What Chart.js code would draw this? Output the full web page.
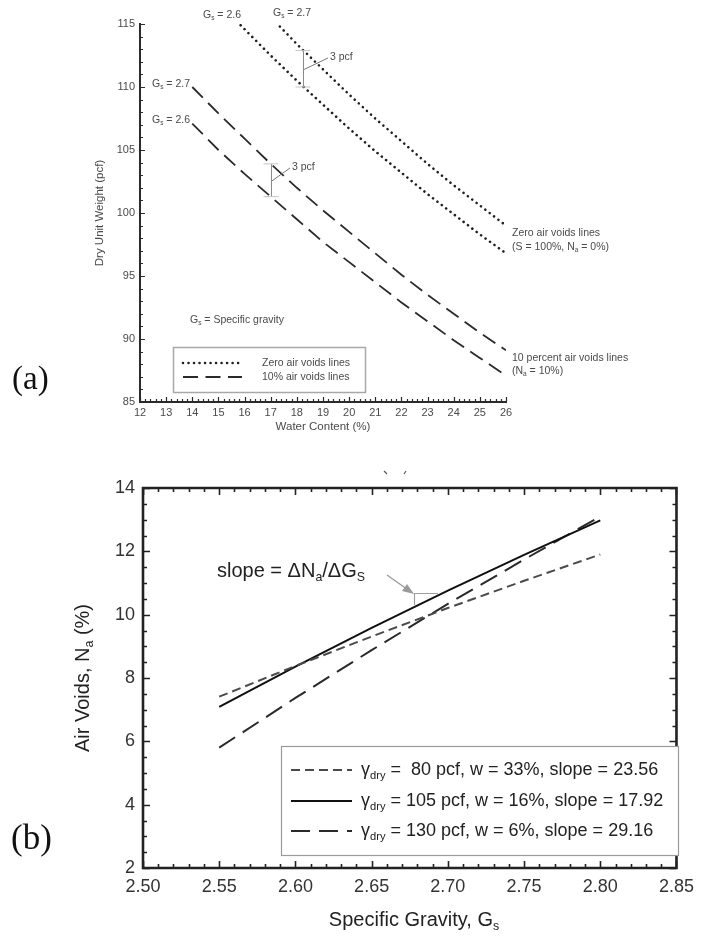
<!DOCTYPE html>
<html>
<head>
<meta charset="utf-8">
<script src="https://cdn.jsdelivr.net/npm/chart.js@4.4.1/dist/chart.umd.min.js"></script>
<style>
  html, body { margin: 0; padding: 0; background: #fff; }
  #wrap { position: relative; width: 702px; height: 937px; overflow: hidden; background: #fff; }
  canvas { position: absolute; left: 0; }
  #ca { top: 0; }
  #cb { top: 440px; }
  .tag { position: absolute; font-family: "Liberation Serif", "DejaVu Serif", serif; color: #111; line-height: 1; }
</style>
</head>
<body>
<div id="wrap">
  <canvas id="ca" width="702" height="440" style="width:702px;height:440px"></canvas>
  <canvas id="cb" width="702" height="497" style="width:702px;height:497px"></canvas>
  <div class="tag" style="left:12px;top:362px;font-size:33px">(a)</div>
  <div class="tag" style="left:11px;top:820px;font-size:35px">(b)</div>
</div>
<script>
// ---------- Panel (a): compaction curves, dry unit weight vs water content ----------
const wZav26   = [15.85, 17, 18, 19, 20, 21, 22, 23, 24, 25, 26];
const gdZav26  = [114.9, 112.5, 110.5, 108.6, 106.7, 104.9, 103.2, 101.5, 99.9, 98.3, 96.8];
const wZav27   = [17.35, 18, 19, 20, 21, 22, 23, 24, 25, 26];
const gdZav27  = [114.8, 113.4, 111.4, 109.4, 107.5, 105.7, 103.9, 102.2, 100.6, 99.0];
const wAv10    = [14, 15, 16, 17, 18, 19, 20, 21, 22, 23, 24, 25, 26];
const gdAv10_27 = [110.0, 107.9, 105.9, 103.9, 102.0, 100.2, 98.5, 96.8, 95.1, 93.5, 92.0, 90.5, 89.1];
const gdAv10_26 = [107.1, 105.0, 103.1, 101.3, 99.5, 97.7, 96.1, 94.5, 92.9, 91.4, 89.9, 88.5, 87.1];
const waterTicks = [12, 13, 14, 15, 16, 17, 18, 19, 20, 21, 22, 23, 24, 25, 26];
const dryTicks   = [85, 90, 95, 100, 105, 110, 115];

// ---------- Panel (b): air voids vs specific gravity ----------
const gsValues = [2.55, 2.60, 2.65, 2.70, 2.75, 2.80];
const na80  = [7.41, 8.38, 9.31, 10.21, 11.07, 11.90];
const na105 = [7.09, 8.36, 9.58, 10.76, 11.89, 12.98];
const na130 = [5.80, 7.37, 8.88, 10.34, 11.74, 13.10];
const dryWeights = [80, 105, 130];
const waterPct   = [33, 16, 6];
const slopes     = [23.56, 17.92, 29.16];
const gsTicks = ['2.50', '2.55', '2.60', '2.65', '2.70', '2.75', '2.80', '2.85'];
const naTicks = [2, 4, 6, 8, 10, 12, 14];

const FONT = '"Liberation Sans", Arial, Helvetica, sans-serif';

function pts(xs, ys) { return xs.map((v, i) => ({ x: v, y: ys[i] })); }

// text with optional subscript pieces: [[text, isSub], ...]
function richWidth(ctx, parts, size) {
  let w = 0;
  for (const [t, sub] of parts) {
    ctx.font = (sub ? size * 0.62 : size) + 'px ' + FONT;
    w += ctx.measureText(t).width;
  }
  return w;
}
function drawRich(ctx, parts, x, y, size, color, align) {
  ctx.save();
  ctx.fillStyle = color;
  ctx.textBaseline = 'middle';
  ctx.textAlign = 'left';
  const w = richWidth(ctx, parts, size);
  let cx = x;
  if (align === 'center') cx -= w / 2;
  else if (align === 'right') cx -= w;
  for (const [t, sub] of parts) {
    const s = sub ? size * 0.62 : size;
    ctx.font = s + 'px ' + FONT;
    ctx.fillText(t, cx, sub ? y + size * 0.32 : y);
    cx += ctx.measureText(t).width;
  }
  ctx.restore();
}

function tickValues(min, max, step) {
  const n = Math.round((max - min) / step);
  const out = [];
  for (let i = 0; i <= n; i++) out.push(min + i * step);
  return out;
}

// inward tick marks and axis frame
const frameTicks = {
  id: 'frameTicks',
  afterDraw(chart, args, o) {
    const { ctx, chartArea: a, scales: { x, y } } = chart;
    ctx.save();
    ctx.strokeStyle = o.color;
    ctx.lineWidth = o.tickWidth;
    ctx.beginPath();
    for (const [step, len] of [[o.xMinor, o.minorLen], [o.xMajor, o.majorLen]]) {
      for (const v of tickValues(x.min, x.max, step)) {
        const px = Math.round(x.getPixelForValue(v)) + 0.5;
        if (o.sides.includes('bottom')) { ctx.moveTo(px, a.bottom); ctx.lineTo(px, a.bottom - len); }
        if (o.sides.includes('top')) { ctx.moveTo(px, a.top); ctx.lineTo(px, a.top + len); }
      }
    }
    for (const [step, len] of [[o.yMinor, o.minorLen], [o.yMajor, o.majorLen]]) {
      for (const v of tickValues(y.min, y.max, step)) {
        const py = Math.round(y.getPixelForValue(v)) + 0.5;
        if (o.sides.includes('left')) { ctx.moveTo(a.left, py); ctx.lineTo(a.left + len, py); }
        if (o.sides.includes('right')) { ctx.moveTo(a.right, py); ctx.lineTo(a.right - len, py); }
      }
    }
    ctx.stroke();
    ctx.lineWidth = o.frameWidth;
    ctx.lineCap = 'square';
    ctx.beginPath();
    if (o.sides.includes('left')) { ctx.moveTo(a.left, a.top); ctx.lineTo(a.left, a.bottom); }
    if (o.sides.includes('bottom')) { ctx.moveTo(a.left, a.bottom); ctx.lineTo(a.right, a.bottom); }
    if (o.sides.includes('right')) { ctx.moveTo(a.right, a.top); ctx.lineTo(a.right, a.bottom); }
    if (o.sides.includes('top')) { ctx.moveTo(a.left, a.top); ctx.lineTo(a.right, a.top); }
    ctx.stroke();
    ctx.restore();
  }
};

// ---------- Panel (a) annotations, titles and legend ----------
const notesA = {
  id: 'notesA',
  afterDraw(chart) {
    const { ctx, scales: { x, y }, data: { datasets } } = chart;
    const TXT = '#4a4a4a';
    const fs = 10.5;
    const gs = (v) => [['G'], ['s', 1], [' = ' + v]];

    drawRich(ctx, gs('2.6'), 203, 15, fs, TXT, 'left');
    drawRich(ctx, gs('2.7'), 273, 13, fs, TXT, 'left');
    drawRich(ctx, gs('2.7'), 152, 84, fs, TXT, 'left');
    drawRich(ctx, gs('2.6'), 152, 120, fs, TXT, 'left');

    drawRich(ctx, [['Zero air voids lines']], 512, 233, fs, TXT, 'left');
    drawRich(ctx, [['(S = 100%, N'], ['a', 1], [' = 0%)']], 512, 247, fs, TXT, 'left');
    drawRich(ctx, [['10 percent air voids lines']], 512, 358, fs, TXT, 'left');
    drawRich(ctx, [['(N'], ['a', 1], [' = 10%)']], 512, 371, fs, TXT, 'left');
    drawRich(ctx, [['G'], ['s', 1], [' = Specific gravity']], 190, 320, fs, TXT, 'left');

    // 3 pcf brackets between the Gs = 2.6 and Gs = 2.7 lines
    const bracket = (wv, top, bot, lx, ly) => {
      const px = Math.round(x.getPixelForValue(wv)) + 0.5;
      const t = y.getPixelForValue(top), b = y.getPixelForValue(bot);
      ctx.save();
      ctx.strokeStyle = '#8a8a8a';
      ctx.lineWidth = 1;
      ctx.beginPath();
      ctx.moveTo(px, t); ctx.lineTo(px, b);
      ctx.stroke();
      ctx.strokeStyle = '#c4c4c4';
      ctx.beginPath();
      ctx.moveTo(px - 8, t); ctx.lineTo(px + 7, t);
      ctx.moveTo(px - 8, b); ctx.lineTo(px + 7, b);
      ctx.stroke();
      ctx.strokeStyle = '#777';
      ctx.beginPath();
      ctx.moveTo(px, (t + b) / 2 + 1); ctx.lineTo(lx - 2, ly + 1);
      ctx.stroke();
      ctx.restore();
      drawRich(ctx, [['3 pcf']], lx, ly, fs, TXT, 'left');
    };
    bracket(18.25, 112.9, 110.0, 330, 57);
    bracket(17.0, 103.9, 101.3, 292, 167);

    // axis titles
    drawRich(ctx, [['Water Content (%)']], (x.left + x.right) / 2, 427, 11.5, TXT, 'center');
    ctx.save();
    ctx.translate(100, (y.top + y.bottom) / 2);
    ctx.rotate(-Math.PI / 2);
    drawRich(ctx, [['Dry Unit Weight (pcf)']], 0, 0, 11.5, TXT, 'center');
    ctx.restore();

    // legend box
    ctx.save();
    ctx.strokeStyle = '#a8a8a8';
    ctx.lineWidth = 1.5;
    ctx.strokeRect(173.5, 347.5, 192, 45);
    const rows = [[datasets[0], 363], [datasets[2], 377]];
    for (const [ds, ry] of rows) {
      ctx.strokeStyle = ds.borderColor;
      ctx.lineWidth = ds.borderWidth;
      ctx.lineCap = ds.borderCapStyle || 'butt';
      ctx.setLineDash(ds.borderDash);
      ctx.beginPath();
      ctx.moveTo(183, ry); ctx.lineTo(242, ry);
      ctx.stroke();
      ctx.setLineDash([]);
      drawRich(ctx, [[ds.label]], 262, ry, fs, TXT, 'left');
    }
    ctx.restore();
  }
};

const dotted = { borderColor: '#1e1e1e', borderWidth: 2.6, borderDash: [0.01, 5.5], borderCapStyle: 'round' };
const dashed = { borderColor: '#2a2a2a', borderWidth: 1.8, borderDash: [15, 7.5], borderCapStyle: 'butt' };

new Chart(document.getElementById('ca'), {
  type: 'line',
  data: {
    datasets: [
      Object.assign({ label: 'Zero air voids lines', data: pts(wZav26, gdZav26) }, dotted),
      Object.assign({ label: 'Zero air voids lines', data: pts(wZav27, gdZav27) }, dotted),
      Object.assign({ label: '10% air voids lines', data: pts(wAv10, gdAv10_27) }, dashed),
      Object.assign({ label: '10% air voids lines', data: pts(wAv10, gdAv10_26) }, dashed)
    ].map(d => Object.assign(d, { pointRadius: 0, fill: false, tension: 0 }))
  },
  options: {
    responsive: false,
    animation: false,
    devicePixelRatio: 1,
    layout: { padding: { top: 24, right: 196, left: 0, bottom: 0 } },
    plugins: {
      legend: { display: false },
      tooltip: { enabled: false },
      frameTicks: { sides: ['left', 'bottom'], color: '#2a2a2a', tickWidth: 1.2, frameWidth: 2,
                    xMinor: 0.2, xMajor: 1, yMinor: 1, yMajor: 5, minorLen: 3, majorLen: 5 }
    },
    scales: {
      x: {
        type: 'linear', min: waterTicks[0], max: waterTicks[waterTicks.length - 1],
        afterBuildTicks(s) { s.ticks = waterTicks.map(v => ({ value: v })); },
        ticks: { color: '#4a4a4a', font: { family: FONT, size: 11 }, padding: 4, maxRotation: 0, autoSkip: false },
        grid: { display: false, drawTicks: false },
        border: { display: false },
        afterFit(s) { s.height = 38; }
      },
      y: {
        type: 'linear', min: dryTicks[0], max: dryTicks[dryTicks.length - 1],
        afterBuildTicks(s) { s.ticks = dryTicks.map(v => ({ value: v })); },
        ticks: { color: '#4a4a4a', font: { family: FONT, size: 11 }, padding: 5 },
        grid: { display: false, drawTicks: false },
        border: { display: false },
        afterFit(s) { s.width = 140; }
      }
    }
  },
  plugins: [frameTicks, notesA]
});

// ---------- Panel (b) annotations, titles and legend ----------
const notesB = {
  id: 'notesB',
  afterDraw(chart) {
    const { ctx, scales: { x, y }, data: { datasets } } = chart;
    const TXT = '#222';

    // cropped caption marks above the frame
    ctx.save();
    ctx.strokeStyle = '#555';
    ctx.lineWidth = 1.2;
    ctx.beginPath();
    ctx.moveTo(384, 31); ctx.lineTo(387, 34);
    ctx.moveTo(406, 31); ctx.lineTo(404, 34);
    ctx.stroke();
    ctx.restore();

    // slope annotation
    drawRich(ctx, [['slope = \u0394N'], ['a', 1], ['/\u0394G'], ['S', 1]], 217, 131, 20, TXT, 'left');
    ctx.save();
    ctx.strokeStyle = '#9a9a9a';
    ctx.fillStyle = '#9a9a9a';
    ctx.lineWidth = 1.3;
    ctx.beginPath();
    ctx.moveTo(387, 135); ctx.lineTo(411, 152);
    ctx.stroke();
    ctx.beginPath();
    ctx.moveTo(414, 154); ctx.lineTo(402, 151); ctx.lineTo(407, 144);
    ctx.closePath();
    ctx.fill();
    ctx.strokeStyle = '#a0a0a0';
    ctx.lineWidth = 1.2;
    ctx.beginPath();
    ctx.moveTo(414.5, 153); ctx.lineTo(414.5, 165);
    ctx.moveTo(414.5, 153.5); ctx.lineTo(438, 153.5);
    ctx.stroke();
    ctx.restore();

    // axis titles
    drawRich(ctx, [['Specific Gravity, G'], ['s', 1]], 414, 480, 20, TXT, 'center');
    ctx.save();
    ctx.translate(83, (y.top + y.bottom) / 2);
    ctx.rotate(-Math.PI / 2);
    drawRich(ctx, [['Air Voids, N'], ['a', 1], [' (%)']], 0, 0, 20, TXT, 'center');
    ctx.restore();

    // legend box
    ctx.save();
    ctx.fillStyle = '#fff';
    ctx.fillRect(281, 306, 397, 109);
    ctx.strokeStyle = '#9a9a9a';
    ctx.lineWidth = 1.2;
    ctx.strokeRect(281.5, 306.5, 397, 109);
    const rowsY = [330, 361, 391];
    datasets.forEach((ds, i) => {
      const ry = rowsY[i];
      ctx.strokeStyle = ds.borderColor;
      ctx.lineWidth = ds.borderWidth;
      ctx.setLineDash(ds.borderDash || []);
      ctx.beginPath();
      ctx.moveTo(291, ry); ctx.lineTo(352, ry);
      ctx.stroke();
      ctx.setLineDash([]);
      const pad = dryWeights[i] < 100 ? '  ' : ' ';
      drawRich(ctx, [['\u03b3'], ['dry', 1],
        [' =' + pad + dryWeights[i] + ' pcf, w = ' + waterPct[i] + '%, slope = ' + slopes[i].toFixed(2)]],
        361, ry, 18, TXT, 'left');
    });
    ctx.restore();
  }
};

new Chart(document.getElementById('cb'), {
  type: 'line',
  data: {
    datasets: [
      { label: '\u03b3dry = 80 pcf', data: pts(gsValues, na80), borderColor: '#4a4a4a', borderWidth: 2, borderDash: [9, 5] },
      { label: '\u03b3dry = 105 pcf', data: pts(gsValues, na105), borderColor: '#111', borderWidth: 2 },
      { label: '\u03b3dry = 130 pcf', data: pts(gsValues, na130), borderColor: '#2a2a2a', borderWidth: 2, borderDash: [19, 9] }
    ].map(d => Object.assign(d, { pointRadius: 0, fill: false, tension: 0 }))
  },
  options: {
    responsive: false,
    animation: false,
    devicePixelRatio: 1,
    layout: { padding: { top: 48, right: 17, left: 0, bottom: 0 } },
    plugins: {
      legend: { display: false },
      tooltip: { enabled: false },
      frameTicks: { sides: ['left', 'bottom', 'right', 'top'], color: '#222', tickWidth: 1.6, frameWidth: 2.6,
                    xMinor: 0.01, xMajor: 0.05, yMinor: 0.5, yMajor: 2, minorLen: 4, majorLen: 7 }
    },
    scales: {
      x: {
        type: 'linear', min: Number(gsTicks[0]), max: Number(gsTicks[gsTicks.length - 1]),
        afterBuildTicks(s) { s.ticks = gsTicks.map(v => ({ value: Number(v) })); },
        ticks: { color: '#333', font: { family: FONT, size: 18 }, padding: 8, maxRotation: 0, autoSkip: false,
                 callback: (v) => Number(v).toFixed(2) },
        grid: { display: false, drawTicks: false },
        border: { display: false },
        afterFit(s) { s.height = 69; }
      },
      y: {
        type: 'linear', min: naTicks[0], max: naTicks[naTicks.length - 1],
        afterBuildTicks(s) { s.ticks = naTicks.map(v => ({ value: v })); },
        ticks: { color: '#333', font: { family: FONT, size: 18 }, padding: 8 },
        grid: { display: false, drawTicks: false },
        border: { display: false },
        afterFit(s) { s.width = 143; }
      }
    }
  },
  plugins: [frameTicks, notesB]
});
</script>
</body>
</html>
